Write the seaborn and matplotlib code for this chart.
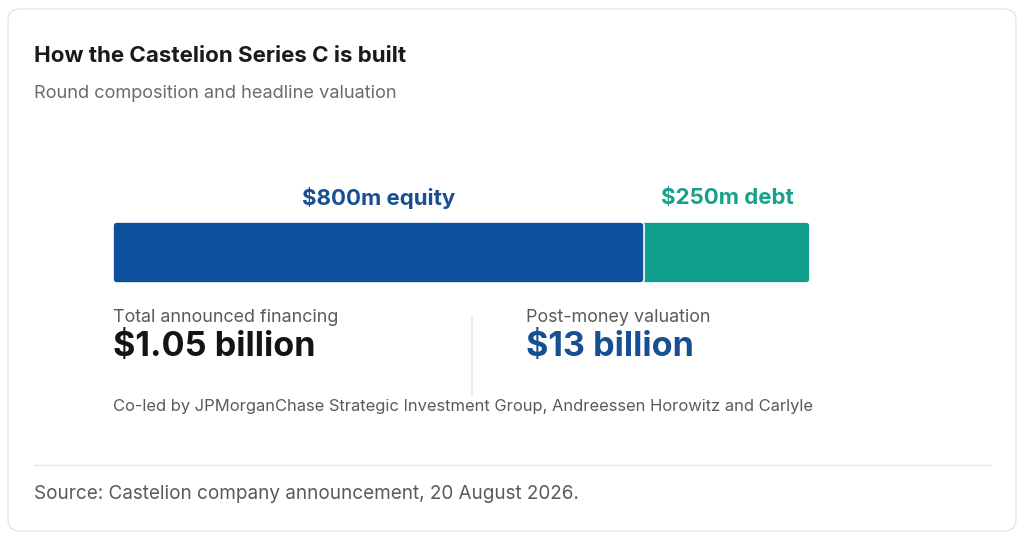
import numpy as np
import pandas as pd
import matplotlib.pyplot as plt
import seaborn as sns
from matplotlib.patches import FancyBboxPatch
from matplotlib.transforms import blended_transform_factory

# --------------------- Data ---------------------
segments = ["equity", "debt"]
amounts_m = [800, 250]
segment_labels = ["$800m equity", "$250m debt"]
segment_colors = ["#0c4f9c", "#129e8c"]
label_colors = ["#174f93", "#18a08a"]

headline_titles = ["Total announced financing", "Post-money valuation"]
headline_values = ["$1.05 billion", "$13 billion"]
headline_colors = ["#141414", "#174f93"]

title = "How the Castelion Series C is built"
subtitle = "Round composition and headline valuation"
co_led = "Co-led by JPMorganChase Strategic Investment Group, Andreessen Horowitz and Carlyle"
source = "Source: Castelion company announcement, 20 August 2026."

W, H = 1024, 537

sns.set_theme(style="white")
plt.rcParams['font.family'] = ['Inter', 'DejaVu Sans']

fig = plt.figure(figsize=(W / 100, H / 100), dpi=100)
fig.patch.set_facecolor("white")

# background axes in pixel units for the card and text layout
bg = fig.add_axes([0, 0, 1, 1])
bg.set_xlim(0, W)
bg.set_ylim(H, 0)
bg.axis("off")

card = FancyBboxPatch((8, 9), 1008, 522, boxstyle="round,pad=0,rounding_size=12",
                      facecolor="white", edgecolor="#e6e6e6", linewidth=1.0)
bg.add_patch(card)

bg.text(34, 56, title, fontsize=16.1, fontweight="bold", color="#1a1a1a", va="center")
bg.text(34, 93, subtitle, fontsize=13.1, color="#6b6b6b", va="center")

# --------------------- Stacked bar ---------------------
ax = fig.add_axes([113 / W, 1 - 283 / H, 697 / W, 61 / H])
cum = np.cumsum(amounts_m)
bar_df = pd.DataFrame({"segment": segments, "amount": amounts_m, "cum": cum})

for i in reversed(range(len(bar_df))):
    sns.barplot(x=[bar_df["cum"][i]], y=["Series C"], color=segment_colors[i],
                width=1.0, saturation=1, edgecolor="white", linewidth=1.2, ax=ax)

total = cum[-1]
ax.set_xlim(0, total)
ax.set_ylim(0.5, -0.5)
ax.axis("off")

# round the corners of the bars
px_x = total / 697
px_y = 1.0 / 61
for p in list(ax.patches):
    x0, y0 = p.get_x(), p.get_y()
    w, h = p.get_width(), p.get_height()
    fb = FancyBboxPatch((x0, y0), w, h,
                        boxstyle=f"round,pad=0,rounding_size={4 * px_x}",
                        mutation_aspect=px_y / px_x,
                        facecolor=p.get_facecolor(), edgecolor="white", linewidth=1.2)
    p.remove()
    ax.add_patch(fb)

trans = blended_transform_factory(ax.transData, ax.transAxes)
starts = cum - np.array(amounts_m)
for i, lab in enumerate(segment_labels):
    ax.text(starts[i] + amounts_m[i] / 2, 1 + 24 / 61, lab, transform=trans,
            ha="center", va="center", fontsize=16, fontweight="bold",
            color=label_colors[i], clip_on=False)

# --------------------- Headline figures ---------------------
for xpos, t, v, c in zip([113, 526], headline_titles, headline_values, headline_colors):
    bg.text(xpos, 317, t, fontsize=12.9, color="#5a5a5a", va="center")
    bg.text(xpos, 347, v, fontsize=24.6, fontweight="bold", color=c, va="center")

bg.plot([472, 472], [317, 395], color="#e3e6ea", linewidth=1.2)

bg.text(113, 406, co_led, fontsize=11.9, color="#5a5a5a", va="center")

bg.plot([34, 991], [465, 465], color="#e6e6e6", linewidth=1.0)
bg.text(34, 494, source, fontsize=13.6, color="#5a5a5a", va="center")

fig.savefig("out.png", dpi=100, facecolor=fig.get_facecolor())
